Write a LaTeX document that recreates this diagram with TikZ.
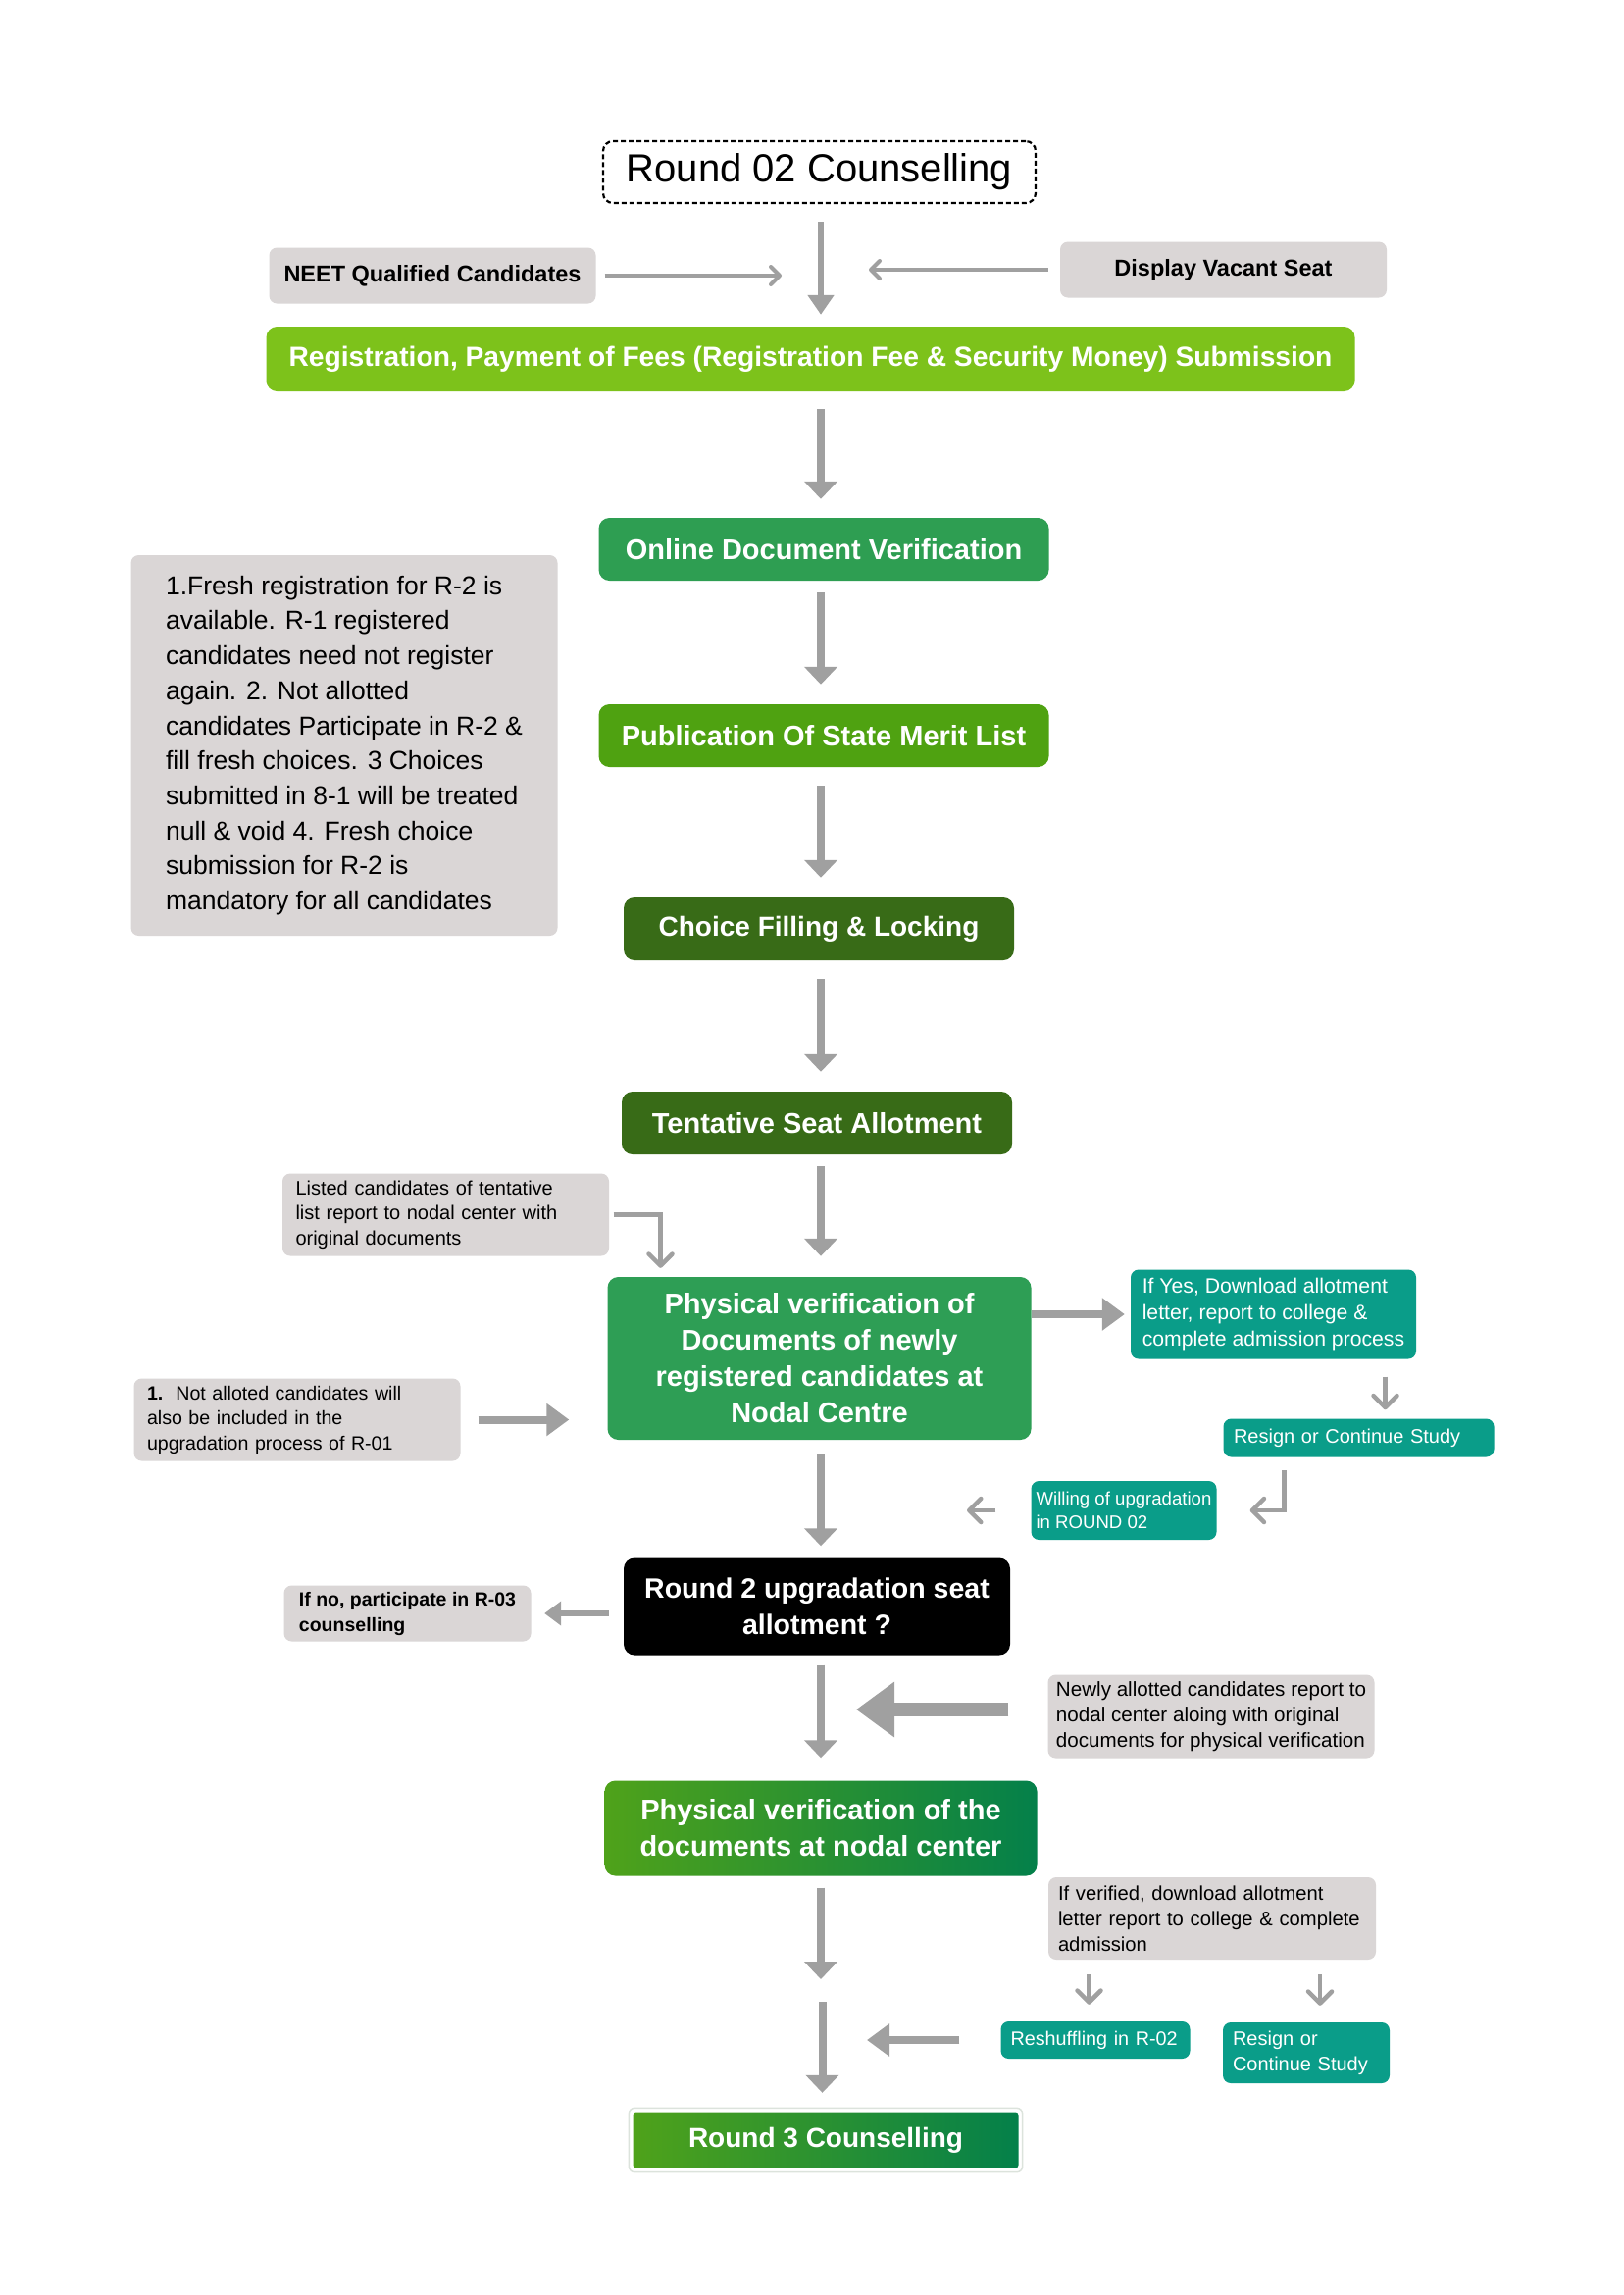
\documentclass[tikz,border=0pt]{standalone}
\usepackage{fontspec}
\setmainfont{Liberation Sans}
\usetikzlibrary{arrows.meta,calc}
\definecolor{boxgray}{HTML}{DAD6D6}
\definecolor{arrowgray}{HTML}{A0A0A0}
\definecolor{regG}{HTML}{7DC21B}
\definecolor{onlG}{HTML}{2E9E52}
\definecolor{pubG}{HTML}{4FA211}
\definecolor{darkG}{HTML}{386B17}
\definecolor{phyG}{HTML}{2E9E55}
\definecolor{tealc}{HTML}{0A9D89}
\definecolor{gradL}{HTML}{4FA21A}
\definecolor{gradR}{HTML}{04804A}
\definecolor{framegray}{HTML}{DCE3DC}
\tikzset{
  every node/.style={inner sep=0pt},
  flow/.style={rounded corners=11pt, text=white, align=center, font=\bfseries\fontsize{29}{37}\selectfont},
  gbox/.style={fill=boxgray, rounded corners=8pt, text=black, align=left},
  tbox/.style={fill=tealc, rounded corners=8pt, text=white, align=left},
  titlebox/.style={draw=black, dash pattern=on 5pt off 3pt, line width=2.2pt, rounded corners=10pt, minimum width=441pt, minimum height=63pt, font=\fontsize{40}{46}\selectfont},
  vline/.style={draw=arrowgray, line width=8pt, -{Triangle[width=33pt,length=18pt]}},
  topline/.style={draw=arrowgray, line width=6pt, -{Triangle[width=26pt,length=20pt]}},
  hbarb/.style={draw=arrowgray, line width=4pt, -{Straight Barb[width=18pt,length=9pt,round]}},
  sbarb/.style={draw=arrowgray, line width=4.5pt, -{Straight Barb[width=24pt,length=12pt,round]}},
  harr/.style={draw=arrowgray, line width=8pt, -{Triangle[width=32pt,length=23pt]}},
  marr/.style={draw=arrowgray, line width=6pt, -{Triangle[width=24pt,length=17pt]}},
  hugearr/.style={draw=arrowgray, line width=14pt, -{Triangle[width=54pt,length=39pt]}},
}
\begin{document}
\begin{tikzpicture}[x=1pt,y=-1pt]
\useasboundingbox (0,0) rectangle (1655,2340);
\fill[white] (0,0) rectangle (1655,2340);

% ---- nodes ----
\node[titlebox] (title) at (835.5,175.5) {Round 02 Counselling};
\node[gbox, minimum width=333pt, minimum height=57pt, font=\bfseries\fontsize{23.5}{27}\selectfont] (neet) at (441,281) {NEET Qualified Candidates};
\node[gbox, minimum width=333pt, minimum height=57pt, font=\bfseries\fontsize{23.5}{27}\selectfont] (disp) at (1247.5,275) {Display Vacant Seat};
\node[flow, fill=regG, minimum width=1110pt, minimum height=66pt, font=\bfseries\fontsize{28.2}{33}\selectfont] (reg) at (826.5,366) {Registration, Payment of Fees (Registration Fee \& Security Money) Submission};
\node[flow, fill=onlG, minimum width=459pt, minimum height=64pt] (online) at (840,560) {Online Document Verification};
\node[flow, fill=pubG, minimum width=459pt, minimum height=64pt] (pub) at (840,750) {Publication Of State Merit List};
\node[flow, fill=darkG, minimum width=398pt, minimum height=64pt, font=\bfseries\fontsize{28}{37}\selectfont] (choice) at (835,947) {Choice Filling \& Locking};
\node[flow, fill=darkG, minimum width=398pt, minimum height=64pt] (tent) at (833,1145) {Tentative Seat Allotment};

\node[gbox, minimum width=435pt, minimum height=388pt, font=\fontsize{26.5}{35.7}\selectfont] (note) at (351,760) {1.Fresh registration for R-2 is\\available. R-1 registered\\candidates need not register\\again. 2. Not allotted\\candidates Participate in R-2 \&\\fill fresh choices. 3 Choices\\submitted in 8-1 will be treated\\null \& void 4. Fresh choice\\submission for R-2 is\\mandatory for all candidates};

\node[gbox, text width=306pt, inner xsep=13.5pt, minimum height=84pt, font=\fontsize{20}{25.5}\selectfont] (listed) at (454.5,1238.5) {Listed candidates of tentative\\list report to nodal center with\\original documents};

\node[flow, fill=phyG, minimum width=432pt, minimum height=166pt] (phys1) at (835.5,1385) {Physical verification of\\Documents of newly\\registered candidates at\\Nodal Centre};

\node[tbox, minimum width=291pt, minimum height=91pt, font=\fontsize{21.2}{27}\selectfont] (ifyes) at (1298.5,1340) {If Yes, Download allotment\\letter, report to college \&\\complete admission process};
\node[tbox, text width=255pt, inner xsep=10.5pt, minimum height=39pt, font=\fontsize{20}{24}\selectfont] (res1) at (1385.5,1466) {Resign or Continue Study};
\node[tbox, minimum width=189pt, minimum height=60pt, font=\fontsize{18.6}{24}\selectfont] (willing) at (1146,1540) {Willing of upgradation\\in ROUND 02};

\node[gbox, text width=306pt, inner xsep=13.5pt, minimum height=84pt, font=\fontsize{19.6}{25.5}\selectfont] (notal) at (303,1447.5) {\textbf{1.}\ \ Not alloted candidates will\\also be included in the\\upgradation process of R-01};

\node[flow, fill=black, minimum width=394pt, minimum height=99pt, font=\bfseries\fontsize{28.5}{37}\selectfont] (black) at (833,1638) {Round 2 upgradation seat\\allotment ?};
\node[gbox, minimum width=252pt, minimum height=57pt, font=\bfseries\fontsize{19.5}{26}\selectfont] (ifno) at (415.5,1645) {If no, participate in R-03\\counselling};

\node[gbox, minimum width=333pt, minimum height=85pt, font=\fontsize{20.6}{26}\selectfont] (newly) at (1235,1750) {Newly allotted candidates report to\\nodal center aloing with original\\documents for physical verification};

\node[flow, left color=gradL, right color=gradR, minimum width=441pt, minimum height=97pt] (phys2) at (837,1864) {Physical verification of the\\documents at nodal center};

\node[gbox, text width=314pt, inner xsep=10pt, minimum height=84pt, font=\fontsize{20.2}{26}\selectfont] (ifver) at (1236,1956) {If verified, download allotment\\letter report to college \& complete\\admission};

\node[tbox, text width=173pt, inner xsep=10pt, minimum height=38pt, font=\fontsize{19.8}{24}\selectfont] (resh) at (1117,2080) {Reshuffling in R-02};
\node[tbox, text width=150pt, inner xsep=10pt, minimum height=62pt, font=\fontsize{20}{26}\selectfont] (res2) at (1332,2093) {Resign or\\Continue Study};

\node[flow, rounded corners=3pt, left color=gradL, right color=gradR, minimum width=393pt, minimum height=57pt, font=\bfseries\fontsize{28}{34}\selectfont] (round3) at (842,2182) {Round 3 Counselling};
\draw[draw=framegray, line width=1.5pt, rounded corners=6pt] ([xshift=-4pt,yshift=-4pt]round3.south west) rectangle ([xshift=4pt,yshift=4pt]round3.north east);

% ---- connectors ----
\coordinate (cx) at (837,0);
\draw[topline, shorten <=18pt, shorten >=12pt] (title.south -| cx) -- (reg.north -| cx);
\coordinate (m1) at (797,281);
\draw[hbarb, shorten <=9pt] (neet.east) -- (m1);
\coordinate (m2) at (886,275);
\draw[hbarb, shorten <=12pt] (disp.west) -- (m2);

\draw[vline, shorten <=18pt, shorten >=19pt] (reg.south -| cx) -- (online.north -| cx);
\draw[vline, shorten <=12pt, shorten >=20pt] (online.south -| cx) -- (pub.north -| cx);
\draw[vline, shorten <=19pt, shorten >=20pt] (pub.south -| cx) -- (choice.north -| cx);
\draw[vline, shorten <=19pt, shorten >=20pt] (choice.south -| cx) -- (tent.north -| cx);
\draw[vline, shorten <=12pt, shorten >=21pt] (tent.south -| cx) -- (phys1.north -| cx);

\coordinate (tapx) at (673.5,0);
\draw[sbarb, shorten <=4.5pt, shorten >=9pt] (listed.east) -| (phys1.north -| tapx);

\draw[harr, shorten >=6pt] (phys1.east |- ifyes.west) -- (ifyes.west);
\coordinate (sx) at (1412.5,0);
\draw[sbarb, shorten <=18pt, shorten >=9pt] (ifyes.south -| sx) -- (res1.north -| sx);
\coordinate (ex) at (1309.5,0);
\draw[sbarb, shorten <=13.5pt, shorten >=34pt] (res1.south -| ex) |- (willing.east);
\coordinate (w2) at (986,0);
\draw[sbarb, shorten <=36pt] (willing.west) -- (willing.west -| w2);

\draw[harr, shorten <=18pt, shorten >=39pt] (notal.east) -- (notal.east -| phys1.west);

\draw[vline, shorten <=15pt, shorten >=12pt] (phys1.south -| cx) -- (black.north -| cx);
\draw[marr, shorten <=15pt, shorten >=13.5pt] (black.west |- ifno.east) -- (ifno.east);
\draw[vline, shorten <=10pt, shorten >=23pt] (black.south -| cx) -- (phys2.north -| cx);

\coordinate (bigtip) at (873,1743);
\draw[hugearr, shorten <=40pt] (newly.west |- bigtip) -- (bigtip);

\coordinate (c1) at (837,2018);
\coordinate (c2) at (838.5,2041);
\draw[vline, shorten <=12pt] (phys2.south -| cx) -- (c1);
\draw[vline, shorten >=19.5pt] (c2) -- (round3.north -| c2);

\coordinate (rtip) at (884,0);
\draw[harr, shorten <=42pt] (resh.west) -- (resh.west -| rtip);

\coordinate (v1) at (1110.5,0);
\coordinate (v2) at (1346,0);
\draw[sbarb, shorten <=15pt, shorten >=17pt] (ifver.south -| v1) -- (resh.north -| v1);
\draw[sbarb, shorten <=15pt, shorten >=17pt] (ifver.south -| v2) -- (res2.north -| v2);
\end{tikzpicture}
\end{document}
